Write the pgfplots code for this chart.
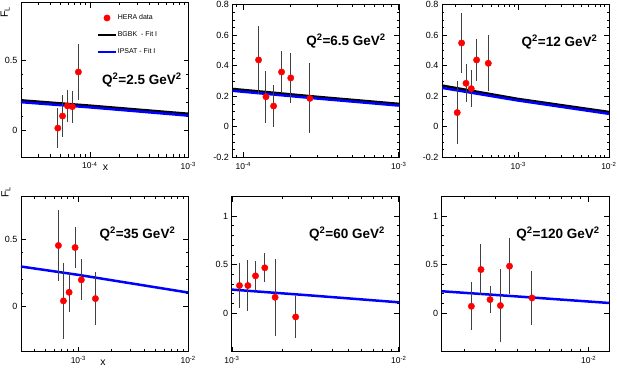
\documentclass[border=0pt]{standalone}
\usepackage{fontspec}
\setmainfont{Liberation Sans}
\usepackage{pgfplots}
\pgfplotsset{compat=1.18}
\pgfkeys{/pgf/number format/assume math mode=true}

\pgfplotsset{
  every axis/.append style={
    scale only axis, anchor=south west, clip mode=individual,
    axis line style={line width=0.8pt},
    tick style={black, line width=0.6pt},
    tick align=inside,
    major tick length=5pt, minor tick length=2.5pt,
    yticklabel style={font=\fontsize{9}{11}\selectfont},
    xticklabel style={font=\fontsize{8.5}{10}\selectfont, yshift=-1.5pt},
  },
  hera/.style={only marks, mark=*, mark size=3.2pt, color=red,
    mark options={fill=red, draw=red},
    error bars/y dir=both, error bars/y explicit,
    error bars/error mark=none,
    error bars/error bar style={line width=1pt, color=black!75}},
  bgbk/.style={no marks, black, line width=2.5pt},
  ipsat/.style={no marks, blue, line width=2.5pt},
}
\tikzset{
  qlab/.style={font=\fontsize{13.5}{15}\selectfont\bfseries, anchor=center},
  alab/.style={font=\fontsize{10.5}{12}\selectfont},
}

\begin{document}
\begin{tikzpicture}
\path[use as bounding box] (0pt,0pt) rectangle (617pt,367pt);

% Q^2 = 2.5
\begin{axis}[xmode=log, log basis x=10,
  xticklabel={10\textsuperscript{\pgfmathprintnumber[fixed,precision=0]{\tick}}},
  xtick={1e-4,1e-3},
  minor xtick={3e-5,4e-5,5e-5,6e-5,7e-5,8e-5,9e-5,2e-4,3e-4,4e-4,5e-4,6e-4,7e-4,8e-4,9e-4},
  at={(21pt,210pt)}, width=167.5pt, height=154.3pt,
  xmin=2e-5, xmax=1.003e-3, ymin=-0.19, ymax=0.91,
  ytick={0,0.5}, minor y tick num=4,
  legend style={draw=none, fill=none, at={(0.454,0.93)}, anchor=north west,
    font=\fontsize{7}{8}\selectfont, row sep=8.5pt, inner sep=0pt,
    nodes={inner sep=1pt}},
  legend cell align=left]
\addlegendimage{only marks, mark=*, mark size=3.2pt, red}
\addlegendentry{HERA data}
\addlegendimage{black, line width=2.5pt}
\addlegendentry{BGBK\ \ - Fit I}
\addlegendimage{blue, line width=2.5pt}
\addlegendentry{IPSAT - Fit I}
\addplot[bgbk, forget plot] coordinates {(2e-5,0.214) (1e-4,0.176) (1e-3,0.118)};
\addplot[ipsat, forget plot] coordinates {(2e-5,0.201) (1e-4,0.164) (1e-3,0.105)};
\addplot[forget plot, hera] coordinates {
  (4.73e-5,0.016) +- (0,0.14)
  (5.28e-5,0.102) +- (0,0.15)
  (5.93e-5,0.174) +- (0,0.117)
  (6.65e-5,0.169) +- (0,0.115)
  (7.65e-5,0.416) +- (0,0.2)};
\node[qlab] at (rel axis cs:0.722,0.499) {Q\textsuperscript{2}=2.5 GeV\textsuperscript{2}};
\node[alab] at (rel axis cs:0.505,-0.068) {x};
\node[alab, rotate=90] at (rel axis cs:-0.095,0.94) {F\textsubscript{L}};
\end{axis}

% Q^2 = 6.5
\begin{axis}[xmode=log, log basis x=10,
  xticklabel={10\textsuperscript{\pgfmathprintnumber[fixed,precision=0]{\tick}}},
  xtick={1e-4,1e-3},
  minor xtick={9e-5,2e-4,3e-4,4e-4,5e-4,6e-4,7e-4,8e-4,9e-4},
  at={(232.3pt,209.7pt)}, width=166.7pt, height=152.6pt,
  xmin=8.5e-5, xmax=1.003e-3, ymin=-0.2, ymax=0.8,
  ytick={-0.2,0,0.2,0.4,0.6,0.8}, minor y tick num=3]
\addplot[bgbk] coordinates {(8.5e-5,0.248) (3e-4,0.196) (1e-3,0.150)};
\addplot[ipsat] coordinates {(8.5e-5,0.236) (3e-4,0.185) (1e-3,0.139)};
\addplot[hera] coordinates {
  (1.254e-4,0.438) +- (0,0.22)
  (1.40e-4,0.197) +- (0,0.17)
  (1.567e-4,0.136) +- (0,0.135)
  (1.763e-4,0.359) +- (0,0.135)
  (2.02e-4,0.320) +- (0,0.166)
  (2.68e-4,0.186) +- (0,0.23)};
\node[qlab] at (rel axis cs:0.682,0.762) {Q\textsuperscript{2}=6.5 GeV\textsuperscript{2}};
\end{axis}

% Q^2 = 12
\begin{axis}[xmode=log, log basis x=10,
  xticklabel={10\textsuperscript{\pgfmathprintnumber[fixed,precision=0]{\tick}}},
  xtick={1e-3,1e-2},
  minor xtick={2e-4,3e-4,4e-4,5e-4,6e-4,7e-4,8e-4,9e-4,2e-3,3e-3,4e-3,5e-3,6e-3,7e-3,8e-3,9e-3},
  at={(442pt,209.7pt)}, width=167pt, height=152.6pt,
  xmin=1.44e-4, xmax=1.003e-2, ymin=-0.2, ymax=0.8,
  ytick={-0.2,0,0.2,0.4,0.6,0.8}, minor y tick num=3]
\addplot[bgbk] coordinates {(1.44e-4,0.270) (1e-3,0.182) (1e-2,0.097)};
\addplot[ipsat] coordinates {(1.44e-4,0.255) (1e-3,0.172) (1e-2,0.085)};
\addplot[hera] coordinates {
  (2.12e-4,0.093) +- (0,0.207)
  (2.37e-4,0.549) +- (0,0.195)
  (2.65e-4,0.285) +- (0,0.125)
  (3.03e-4,0.250) +- (0,0.123)
  (3.47e-4,0.438) +- (0,0.14)
  (4.67e-4,0.416) +- (0,0.183)};
\node[qlab] at (rel axis cs:0.704,0.756) {Q\textsuperscript{2}=12 GeV\textsuperscript{2}};
\end{axis}

% Q^2 = 35
\begin{axis}[xmode=log, log basis x=10,
  xticklabel={10\textsuperscript{\pgfmathprintnumber[fixed,precision=0]{\tick}}},
  xtick={1e-3,1e-2},
  minor xtick={4e-4,5e-4,6e-4,7e-4,8e-4,9e-4,2e-3,3e-3,4e-3,5e-3,6e-3,7e-3,8e-3,9e-3},
  at={(21pt,15.3pt)}, width=167.3pt, height=155pt,
  xmin=3e-4, xmax=1.003e-2, ymin=-0.335, ymax=0.815,
  ytick={0,0.5}, minor y tick num=4]
\addplot[ipsat] coordinates {(3e-4,0.297) (1e-3,0.235) (1e-2,0.104)};
\addplot[hera] coordinates {
  (6.58e-4,0.453) +- (0,0.264)
  (7.31e-4,0.042) +- (0,0.28)
  (8.23e-4,0.106) +- (0,0.143)
  (9.33e-4,0.438) +- (0,0.155)
  (1.064e-3,0.198) +- (0,0.153)
  (1.43e-3,0.059) +- (0,0.194)};
\node[qlab] at (rel axis cs:0.696,0.759) {Q\textsuperscript{2}=35 GeV\textsuperscript{2}};
\node[alab] at (rel axis cs:0.49,-0.07) {x};
\node[alab, rotate=90] at (rel axis cs:-0.09,1.03) {F\textsubscript{L}};
\end{axis}

% Q^2 = 60
\begin{axis}[xmode=log, log basis x=10,
  xticklabel={10\textsuperscript{\pgfmathprintnumber[fixed,precision=0]{\tick}}},
  xtick={1e-3,1e-2},
  minor xtick={2e-3,3e-3,4e-3,5e-3,6e-3,7e-3,8e-3,9e-3},
  at={(231.7pt,15.3pt)}, width=167.3pt, height=155pt,
  xmin=0.997e-3, xmax=1.003e-2, ymin=-0.4, ymax=1.2,
  ytick={0,0.5,1}, minor y tick num=4]
\addplot[ipsat] coordinates {(1e-3,0.241) (3e-3,0.180) (1e-2,0.110)};
\addplot[hera] coordinates {
  (1.11e-3,0.283) +- (0,0.236)
  (1.247e-3,0.283) +- (0,0.26)
  (1.385e-3,0.383) +- (0,0.155)
  (1.574e-3,0.466) +- (0,0.148)
  (1.815e-3,0.162) +- (0,0.396)
  (2.41e-3,-0.041) +- (0,0.219)};
\node[qlab] at (rel axis cs:0.689,0.759) {Q\textsuperscript{2}=60 GeV\textsuperscript{2}};
\end{axis}

% Q^2 = 120
\begin{axis}[xmode=log, log basis x=10,
  xticklabel={10\textsuperscript{\pgfmathprintnumber[fixed,precision=0]{\tick}}},
  xtick={1e-2},
  minor xtick={2e-3,3e-3,4e-3,5e-3,6e-3,7e-3,8e-3,9e-3},
  at={(441.7pt,15.3pt)}, width=167.3pt, height=155pt,
  xmin=1.5e-3, xmax=1.3e-2, ymin=-0.4, ymax=1.2,
  ytick={0,0.5,1}, minor y tick num=4]
\addplot[ipsat] coordinates {(1.5e-3,0.224) (4e-3,0.170) (1.3e-2,0.103)};
\addplot[hera] coordinates {
  (2.2e-3,0.069) +- (0,0.25)
  (2.49e-3,0.448) +- (0,0.267)
  (2.8e-3,0.138) +- (0,0.14)
  (3.2e-3,0.076) +- (0,0.38)
  (3.6e-3,0.483) +- (0,0.29)
  (4.81e-3,0.155) +- (0,0.276)};
\node[qlab] at (rel axis cs:0.695,0.759) {Q\textsuperscript{2}=120 GeV\textsuperscript{2}};
\end{axis}
\end{tikzpicture}
\end{document}
